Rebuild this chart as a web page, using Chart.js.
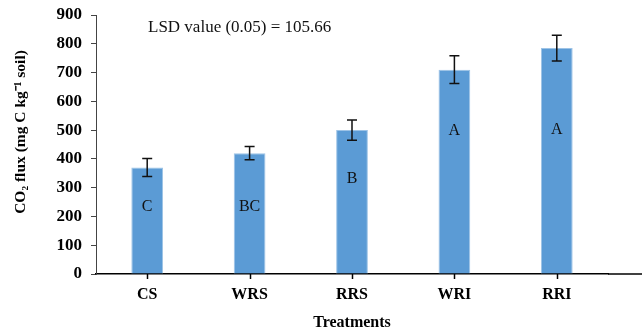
<!DOCTYPE html>
<html lang="en">
<head>
    <meta charset="UTF-8">
    <title>CO2 flux by treatment</title>
    <style>
        body { margin: 0; background: #fff; }
        #wrap { width: 642px; height: 331px; }
    </style>
    <script src="https://cdn.jsdelivr.net/npm/chart.js"></script>
</head>
<body>
    <div id="wrap"><canvas id="graphic" width="642" height="331"></canvas></div>
    <script>
        // values
        const treatments = ["CS", "WRS", "RRS", "WRI", "RRI"];
        const co2Flux = [370, 420, 500, 710, 785];
        const errors = [31, 23, 35, 48, 45];
        const groupLetters = ["C", "BC", "B", "A", "A"];
        const yTicks = [0, 100, 200, 300, 400, 500, 600, 700, 800, 900];
        const lsdNote = "LSD value (0.05) = 105.66";
        const yTitle = "CO\u2082 flux (mg C kg\u207B\u00B9 soil)";

        // where the letters sit inside the bars (in data units)
        const letterAt = [235, 235, 330, 497, 500];

        const serif = "'Liberation Serif', 'Times New Roman', serif";

        const extras = {
            id: "extras",
            afterDraw(chart) {
                const ctx = chart.ctx;
                const x = chart.scales.x;
                const y = chart.scales.y;
                const area = chart.chartArea;

                // error bars
                ctx.save();
                ctx.strokeStyle = "#111";
                ctx.lineWidth = 1.5;
                co2Flux.forEach((v, i) => {
                    const cx = x.getPixelForValue(i);
                    const top = y.getPixelForValue(v + errors[i]);
                    const bot = y.getPixelForValue(v - errors[i]);
                    ctx.beginPath();
                    ctx.moveTo(cx, top);
                    ctx.lineTo(cx, bot);
                    ctx.moveTo(cx - 5, top);
                    ctx.lineTo(cx + 5, top);
                    ctx.moveTo(cx - 5, bot);
                    ctx.lineTo(cx + 5, bot);
                    ctx.stroke();
                });

                // group letters
                ctx.fillStyle = "#111";
                ctx.font = "16px " + serif;
                ctx.textAlign = "center";
                ctx.textBaseline = "middle";
                groupLetters.forEach((t, i) => {
                    ctx.fillText(t, x.getPixelForValue(i), y.getPixelForValue(letterAt[i]));
                });

                // LSD note
                ctx.textAlign = "left";
                ctx.font = "17px " + serif;
                ctx.fillText(lsdNote, 148, 28);

                // y axis title, sitting a little above the middle like the original
                ctx.save();
                ctx.translate(21, 132);
                ctx.rotate(-Math.PI / 2);
                ctx.textAlign = "center";
                ctx.fillStyle = "#000";
                ctx.font = "bold 15.5px " + serif;
                ctx.fillText(yTitle, 0, 0);
                ctx.restore();

                // x axis line runs on past the last category, ticks under each bar
                ctx.strokeStyle = "#000";
                ctx.lineWidth = 1.5;
                ctx.beginPath();
                ctx.moveTo(area.right, area.bottom);
                ctx.lineTo(642, area.bottom);
                ctx.stroke();
                treatments.forEach((_, i) => {
                    const cx = Math.round(x.getPixelForValue(i)) + 0.5;
                    ctx.beginPath();
                    ctx.moveTo(cx, area.bottom);
                    ctx.lineTo(cx, area.bottom + 5);
                    ctx.stroke();
                });
                ctx.restore();
            }
        };

        new Chart(document.getElementById("graphic"), {
            type: "bar",
            data: {
                labels: treatments,
                datasets: [{
                    data: co2Flux,
                    backgroundColor: "#5B9BD5",
                    borderColor: "#9DC3E6",
                    borderWidth: 1,
                    barPercentage: 0.31,
                    categoryPercentage: 1
                }]
            },
            options: {
                responsive: false,
                animation: false,
                layout: { padding: { top: 15, right: 34, left: 6, bottom: 0 } },
                plugins: {
                    legend: { display: false },
                    tooltip: { enabled: false }
                },
                scales: {
                    x: {
                        grid: { display: false },
                        border: { color: "#000", width: 1.5 },
                        ticks: { color: "#000", padding: 3, font: { family: serif, size: 16, weight: "bold" } },
                        title: {
                            display: true, text: "Treatments", color: "#000",
                            padding: { top: 0, bottom: 0 },
                            font: { family: serif, size: 16, weight: "bold", lineHeight: 1.0 }
                        },
                        afterFit(scale) { scale.height = 57; }
                    },
                    y: {
                        min: 0,
                        max: 900,
                        afterBuildTicks(scale) { scale.ticks = yTicks.map(v => ({ value: v })); },
                        grid: { drawOnChartArea: false, drawTicks: true, tickLength: 5, color: "#444" },
                        border: { color: "#444", width: 1 },
                        ticks: { color: "#000", padding: 9, font: { family: serif, size: 17, weight: "bold" } },
                        afterFit(scale) {
                            scale.width = 90;
                            scale.paddingTop = 0;
                            scale.paddingBottom = 0;
                        }
                    }
                }
            },
            plugins: [extras]
        });
    </script>
</body>
</html>
